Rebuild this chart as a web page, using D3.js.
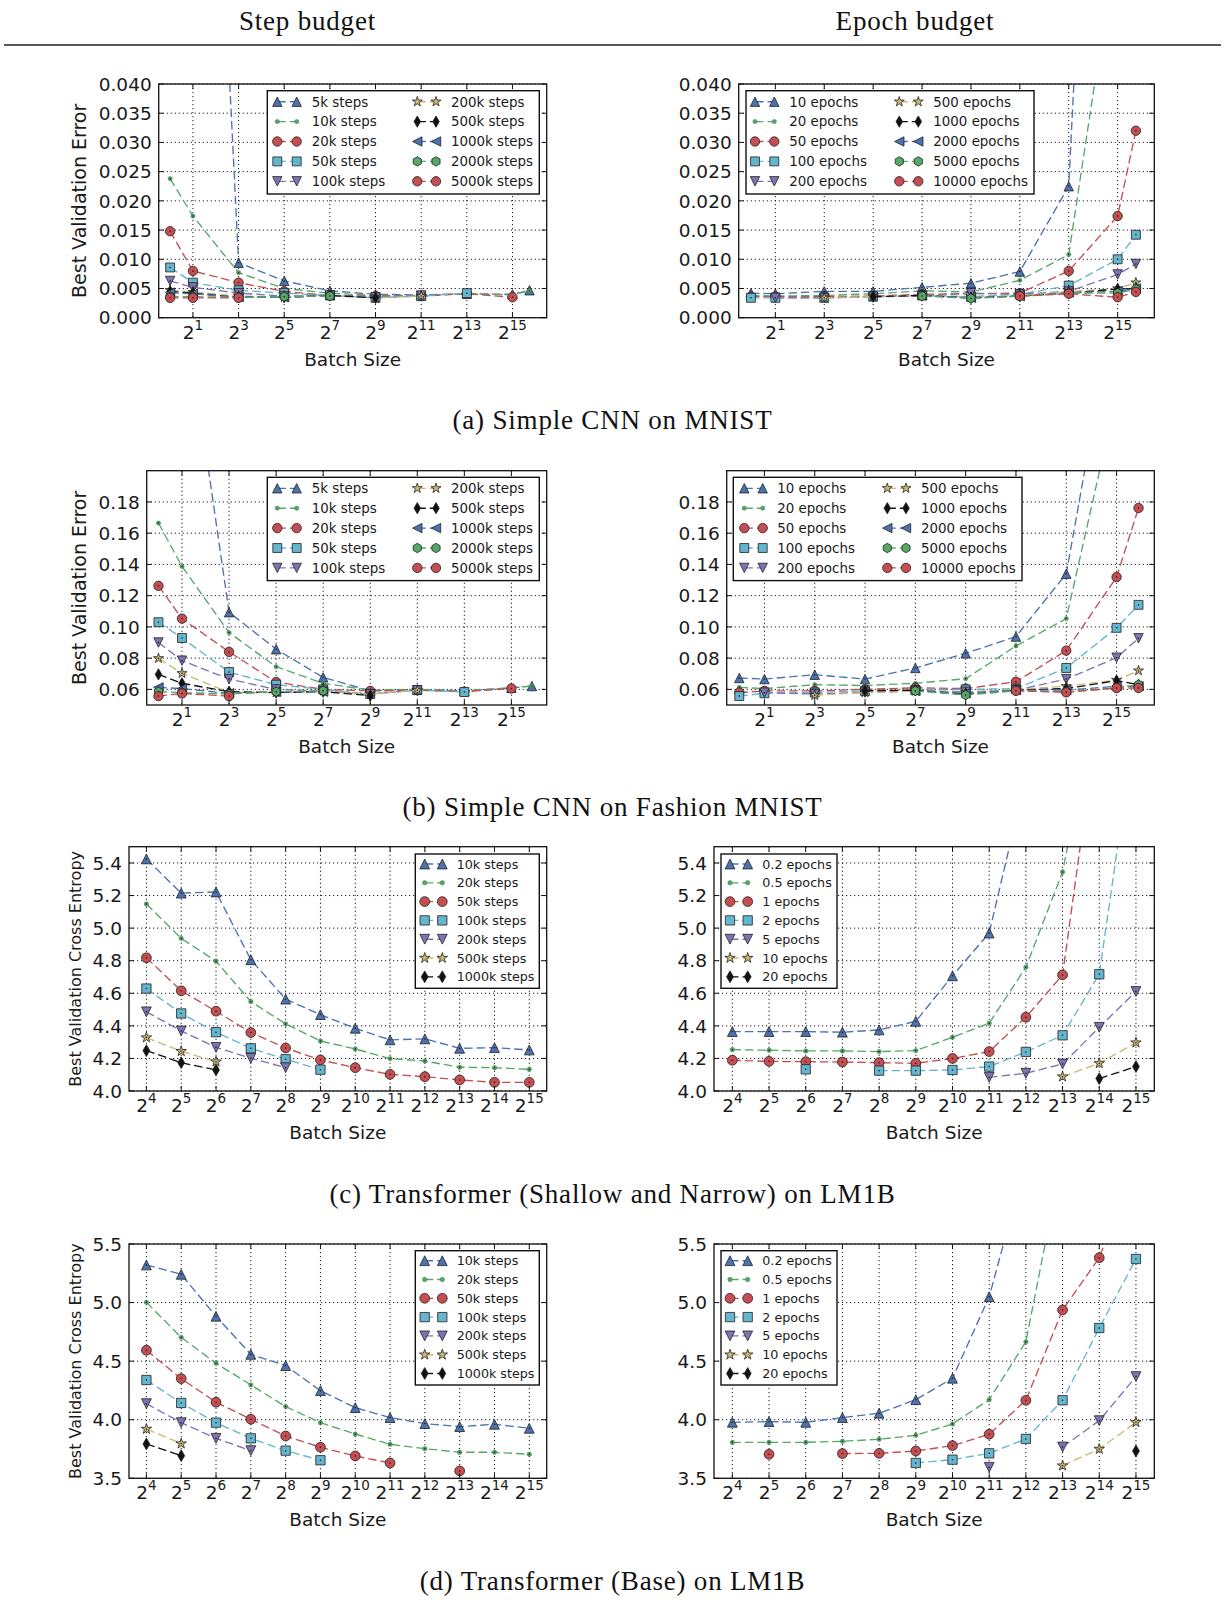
<!DOCTYPE html>
<html><head><meta charset="utf-8">
<script src="https://cdn.jsdelivr.net/npm/d3@7/dist/d3.min.js"></script>
<style>body{margin:0;background:#fff}svg{display:block}</style>
</head><body>
<svg id="c" width="1225" height="1600"></svg>
<script>
// ---------------- DATA ----------------
const batchMNIST   = [1, 2, 8, 32, 128, 512, 2048, 8192, 32768, 55000];
const batchFashion = [1, 2, 8, 32, 128, 512, 2048, 8192, 32768, 60000];
const batchLM1B    = [16, 32, 64, 128, 256, 512, 1024, 2048, 4096, 8192, 16384, 32768];

const cnnStepLabels  = ["5k steps","10k steps","20k steps","50k steps","100k steps","200k steps","500k steps","1000k steps","2000k steps","5000k steps"];
const cnnEpochLabels = ["10 epochs","20 epochs","50 epochs","100 epochs","200 epochs","500 epochs","1000 epochs","2000 epochs","5000 epochs","10000 epochs"];
const lmStepLabels   = ["10k steps","20k steps","50k steps","100k steps","200k steps","500k steps","1000k steps"];
const lmEpochLabels  = ["0.2 epochs","0.5 epochs","1 epochs","2 epochs","5 epochs","10 epochs","20 epochs"];

const xTickExpCNN = [1, 3, 5, 7, 9, 11, 13, 15];
const xTickExpLM  = [4, 5, 6, 7, 8, 9, 10, 11, 12, 13, 14, 15];
const yTicksMNIST   = [0.000, 0.005, 0.010, 0.015, 0.020, 0.025, 0.030, 0.035, 0.040];
const yTicksFashion = [0.06, 0.08, 0.10, 0.12, 0.14, 0.16, 0.18];
const yTicksShallow = [4.0, 4.2, 4.4, 4.6, 4.8, 5.0, 5.2, 5.4];
const yTicksBase    = [3.5, 4.0, 4.5, 5.0, 5.5];

const _ = null;
// (a) Simple CNN on MNIST
const mnistStep = [
  [0.9, 0.168, 0.0094, 0.0063, 0.0046, 0.0040, 0.0039, 0.0041, 0.0040, 0.0047],
  [0.0238, 0.0174, 0.0077, 0.0050, 0.0042, 0.0038, 0.0038, 0.0041, 0.0039, 0.0046],
  [0.0148, 0.0080, 0.0060, 0.0045, 0.0038, 0.0037, 0.0037, 0.0041, 0.0035, _],
  [0.0086, 0.0060, 0.0047, 0.0042, 0.0038, 0.0034, 0.0037, 0.0042, _, _],
  [0.0063, 0.0052, 0.0042, 0.0037, 0.0038, 0.0035, 0.0038, _, _, _],
  [0.0047, 0.0044, 0.0037, 0.0035, 0.0038, 0.0034, 0.0037, _, _, _],
  [0.0045, 0.0042, 0.0035, 0.0035, 0.0038, 0.0034, _, _, _, _],
  [0.0043, 0.0041, 0.0035, 0.0035, 0.0038, _, _, _, _, _],
  [0.0036, 0.0036, 0.0035, 0.0036, 0.0037, _, _, _, _, _],
  [0.0034, 0.0034, 0.0034, _, _, _, _, _, _, _]
];
const mnistEpoch = [
  [0.0042, 0.0041, 0.0045, 0.0045, 0.0052, 0.0059, 0.0079, 0.0225, 0.19, 0.5],
  [0.0038, 0.0037, 0.0038, 0.0041, 0.0046, 0.0044, 0.0064, 0.0108, 0.066, 0.15],
  [0.0036, 0.0036, 0.0036, 0.0037, 0.0040, 0.0041, 0.0042, 0.0080, 0.0174, 0.0320],
  [0.0034, 0.0034, 0.0034, 0.0036, 0.0038, 0.0036, 0.0040, 0.0055, 0.0100, 0.0142],
  [_, 0.0034, 0.0034, 0.0036, 0.0037, 0.0042, 0.0040, 0.0045, 0.0074, 0.0092],
  [_, _, 0.0034, 0.0036, 0.0038, 0.0035, 0.0038, 0.0045, 0.0050, 0.0060],
  [_, _, _, 0.0036, 0.0038, 0.0034, 0.0037, 0.0042, 0.0049, 0.0050],
  [_, _, _, _, 0.0038, 0.0034, 0.0037, 0.0043, 0.0045, 0.0050],
  [_, _, _, _, 0.0037, 0.0033, 0.0037, 0.0042, 0.0042, 0.0049],
  [_, _, _, _, _, _, 0.0037, 0.0041, 0.0035, 0.0044]
];
// (b) Simple CNN on Fashion MNIST
const fashionStep = [
  [0.6, 0.318, 0.1094, 0.0857, 0.0677, 0.0591, 0.0600, 0.0590, 0.0610, 0.0621],
  [0.1665, 0.1387, 0.0964, 0.0745, 0.0639, 0.0595, 0.0600, 0.0590, 0.0610, 0.0622],
  [0.1263, 0.1053, 0.0840, 0.0647, 0.0600, 0.0590, 0.0595, 0.0585, 0.0606, _],
  [0.1030, 0.0929, 0.0711, 0.0630, 0.0600, 0.0570, 0.0595, 0.0583, _, _],
  [0.0900, 0.0784, 0.0666, 0.0600, 0.0590, 0.0570, 0.0595, _, _, _],
  [0.0799, 0.0703, 0.0580, 0.0580, 0.0590, 0.0570, 0.0594, _, _, _],
  [0.0696, 0.0639, 0.0585, 0.0580, 0.0585, 0.0560, _, _, _, _],
  [0.0613, 0.0605, 0.0575, 0.0585, 0.0585, _, _, _, _, _],
  [0.0585, 0.0580, 0.0570, 0.0585, 0.0591, _, _, _, _, _],
  [0.0557, 0.0574, 0.0557, _, _, _, _, _, _, _]
];
const fashionEpoch = [
  [0.0673, 0.0666, 0.0694, 0.0666, 0.0737, 0.0831, 0.0938, 0.134, 0.314, 0.5],
  [0.0613, 0.0605, 0.0630, 0.0625, 0.0639, 0.0668, 0.0878, 0.1053, 0.248, 0.4],
  [0.0580, 0.0590, 0.0590, 0.0600, 0.0610, 0.0605, 0.0649, 0.0848, 0.1319, 0.1761],
  [0.0557, 0.0575, 0.0580, 0.0590, 0.0595, 0.0600, 0.0605, 0.0737, 0.0994, 0.1141],
  [_, 0.0579, 0.0570, 0.0580, 0.0590, 0.0585, 0.0595, 0.0666, 0.0803, 0.0927],
  [_, _, 0.0562, 0.0580, 0.0590, 0.0580, 0.0600, 0.0620, 0.0660, 0.0720],
  [_, _, _, 0.0591, 0.0595, 0.0570, 0.0595, 0.0605, 0.0656, 0.0630],
  [_, _, _, _, 0.0590, 0.0575, 0.0595, 0.0595, 0.0620, 0.0620],
  [_, _, _, _, 0.0590, 0.0564, 0.0590, 0.0585, 0.0610, 0.0630],
  [_, _, _, _, _, _, 0.0591, 0.0581, 0.0609, 0.0609]
];
// (c) Transformer (Shallow and Narrow) on LM1B
const shallowStep = [
  [5.425, 5.215, 5.222, 4.806, 4.564, 4.469, 4.385, 4.314, 4.320, 4.262, 4.266, 4.252],
  [5.148, 4.937, 4.797, 4.549, 4.412, 4.307, 4.258, 4.199, 4.184, 4.146, 4.143, 4.133],
  [4.818, 4.615, 4.490, 4.359, 4.264, 4.191, 4.143, 4.102, 4.088, 4.068, 4.053, 4.053],
  [4.629, 4.476, 4.361, 4.262, 4.195, 4.131, _, _, _, _, _, _],
  [4.486, 4.369, 4.268, 4.201, 4.143, _, _, _, _, _, _, _],
  [4.328, 4.244, 4.180, _, _, _, _, _, _, _, _, _],
  [4.248, 4.174, 4.129, _, _, _, _, _, _, _, _, _]
];
const shallowEpoch = [
  [4.365, 4.365, 4.365, 4.361, 4.375, 4.428, 4.707, 4.970, 5.93, _, _, _],
  [4.254, 4.250, 4.246, 4.246, 4.242, 4.248, 4.330, 4.416, 4.760, 5.345, 6.48, _],
  [4.189, 4.182, 4.180, 4.178, 4.174, 4.170, 4.200, 4.242, 4.453, 4.713, 6.35, _],
  [_, _, 4.133, _, 4.125, 4.125, 4.129, 4.150, 4.240, 4.342, 4.717, 6.28],
  [_, _, _, _, _, _, _, 4.084, 4.109, 4.166, 4.391, 4.611],
  [_, _, _, _, _, _, _, _, _, 4.088, 4.170, 4.297],
  [_, _, _, _, _, _, _, _, _, _, 4.076, 4.150]
];
// (d) Transformer (Base) on LM1B
const baseStep = [
  [5.321, 5.241, 4.883, 4.558, 4.462, 4.248, 4.103, 4.018, 3.967, 3.941, 3.961, 3.927],
  [5.002, 4.703, 4.482, 4.297, 4.112, 3.975, 3.878, 3.790, 3.753, 3.722, 3.722, 3.705],
  [4.593, 4.351, 4.149, 4.004, 3.861, 3.765, 3.691, 3.631, _, 3.563, _, _],
  [4.339, 4.143, 3.975, 3.841, 3.736, 3.654, _, _, _, _, _, _],
  [4.137, 3.975, 3.841, 3.736, _, _, _, _, _, _, _, _],
  [3.921, 3.796, _, _, _, _, _, _, _, _, _, _],
  [3.793, 3.693, _, _, _, _, _, _, _, _, _, _]
];
const baseEpoch = [
  [3.978, 3.984, 3.978, 4.018, 4.055, 4.171, 4.354, 5.050, 6.20, _, _, _],
  [3.807, 3.807, 3.807, 3.816, 3.833, 3.867, 3.964, 4.171, 4.666, 6.25, _, _],
  [_, 3.705, _, 3.711, 3.713, 3.733, 3.779, 3.876, 4.166, 4.937, 5.383, 6.24],
  [_, _, _, _, _, 3.631, 3.659, 3.713, 3.836, 4.166, 4.783, 5.372],
  [_, _, _, _, _, _, _, 3.594, _, 3.767, 3.992, 4.368],
  [_, _, _, _, _, _, _, _, _, 3.608, 3.750, 3.978],
  [_, _, _, _, _, _, _, _, _, _, _, 3.733]
];

// ---------------- STYLE ----------------
const seriesStyles = [
  {m:'tri-up', c:'#4C72B0'}, {m:'dot', c:'#55A868'}, {m:'circle', c:'#C44E52'},
  {m:'square', c:'#64B5CD'}, {m:'tri-down', c:'#8172B2'}, {m:'star', c:'#CCB974'},
  {m:'thin-diamond', c:'#111111'}, {m:'tri-left', c:'#4C72B0'}, {m:'hexagon', c:'#55A868'},
  {m:'circle', c:'#C44E52'}
];
const SANS = "'DejaVu Sans', Verdana, sans-serif";
const SERIF = "'Liberation Serif', 'DejaVu Serif', serif";
const TXT = '#1a1a1a';
const DASH = '8.5,4';

function circ(r){ return `M${-r},0A${r},${r} 0 1,0 ${r},0A${r},${r} 0 1,0 ${-r},0Z`; }
function markerPath(type, s) {
  const f = v => +v.toFixed(2);
  switch (type) {
    case 'tri-up': return `M0,${-s}L${s},${s}L${-s},${s}Z`;
    case 'tri-down': return `M0,${s}L${s},${-s}L${-s},${-s}Z`;
    case 'tri-left': return `M${-s},0L${s},${-s}L${s},${s}Z`;
    case 'square': { const h = s * 0.95; return `M${-h},${-h}H${h}V${h}H${-h}Z`; }
    case 'circle': return circ(s);
    case 'dot': return circ(s * 0.45);
    case 'star': { let p = ''; const R = s * 1.12; for (let k = 0; k < 10; k++) { const r = k % 2 ? R * 0.382 : R; const a = -Math.PI / 2 + k * Math.PI / 5; p += (k ? 'L' : 'M') + f(r * Math.cos(a)) + ',' + f(r * Math.sin(a)); } return p + 'Z'; }
    case 'thin-diamond': return `M0,${f(-s * 1.2)}L${f(s * 0.7)},0L0,${f(s * 1.2)}L${f(-s * 0.7)},0Z`;
    case 'hexagon': { let p = ''; for (let k = 0; k < 6; k++) { const a = -Math.PI / 2 + k * Math.PI / 3; p += (k ? 'L' : 'M') + f(s * Math.cos(a)) + ',' + f(s * Math.sin(a)); } return p + 'Z'; }
  }
}

const svg = d3.select('#c');
const defs = svg.append('defs');

function drawMarker(sel, st, s) {
  sel.append('path').attr('d', markerPath(st.m, s))
    .attr('fill', st.c)
    .attr('stroke', st.m === 'dot' ? '#3d7a4f' : '#222')
    .attr('stroke-width', st.m === 'dot' ? 0.5 : 0.8);
}

function panel(cfg) {
  const g = svg.append('g');
  const x = d3.scaleLog().base(2).domain([2 ** cfg.xlo, 2 ** cfg.xhi]).range([cfg.x0, cfg.x1]);
  const y = d3.scaleLinear().domain(cfg.yDomain).range([cfg.y1, cfg.y0]);
  const clipId = 'clip-' + cfg.id;
  defs.append('clipPath').attr('id', clipId).append('rect')
    .attr('x', cfg.x0).attr('y', cfg.y0).attr('width', cfg.x1 - cfg.x0).attr('height', cfg.y1 - cfg.y0);

  // grid
  const grid = g.append('g').attr('stroke', '#000').attr('stroke-width', 0.9).attr('stroke-dasharray', '1.2,2.8');
  cfg.xTicks.forEach(e => { const px = x(2 ** e); grid.append('line').attr('x1', px).attr('x2', px).attr('y1', cfg.y0).attr('y2', cfg.y1); });
  cfg.yTicks.forEach(v => { const py = y(v); grid.append('line').attr('x1', cfg.x0).attr('x2', cfg.x1).attr('y1', py).attr('y2', py); });

  // series
  const plot = g.append('g').attr('clip-path', `url(#${clipId})`);
  const line = d3.line().defined(d => d.v != null).x(d => x(d.b)).y(d => y(d.v));
  cfg.data.forEach((vals, i) => {
    const st = seriesStyles[i];
    const pts = cfg.batch.map((b, j) => ({ b, v: vals[j] }));
    plot.append('path').datum(pts).attr('d', line).attr('fill', 'none')
      .attr('stroke', st.c).attr('stroke-width', 1.35).attr('stroke-dasharray', DASH);
    const mk = plot.selectAll(null).data(pts.filter(d => d.v != null)).join('g')
      .attr('transform', d => `translate(${x(d.b)},${y(d.v)})`);
    drawMarker(mk, st, cfg.ms);
    mk.append('circle').attr('r', 0.75).attr('fill', '#111');
  });

  // ticks (inward, all four sides)
  const tk = g.append('g').attr('stroke', '#111').attr('stroke-width', 1);
  cfg.xTicks.forEach(e => { const px = x(2 ** e);
    tk.append('line').attr('x1', px).attr('x2', px).attr('y1', cfg.y1).attr('y2', cfg.y1 - 5);
    tk.append('line').attr('x1', px).attr('x2', px).attr('y1', cfg.y0).attr('y2', cfg.y0 + 5); });
  cfg.yTicks.forEach(v => { const py = y(v);
    tk.append('line').attr('x1', cfg.x0).attr('x2', cfg.x0 + 5).attr('y1', py).attr('y2', py);
    tk.append('line').attr('x1', cfg.x1).attr('x2', cfg.x1 - 5).attr('y1', py).attr('y2', py); });

  // frame
  g.append('rect').attr('x', cfg.x0).attr('y', cfg.y0).attr('width', cfg.x1 - cfg.x0).attr('height', cfg.y1 - cfg.y0)
    .attr('fill', 'none').attr('stroke', '#111').attr('stroke-width', 1.3);

  // tick labels
  const fmt = d3.format(cfg.yFmt);
  cfg.yTicks.forEach(v => {
    g.append('text').attr('x', cfg.x0 - 7).attr('y', y(v)).attr('dy', '0.36em')
      .attr('text-anchor', 'end').attr('font-family', SANS).attr('font-size', 18.5).attr('fill', TXT).text(fmt(v));
  });
  cfg.xTicks.forEach(e => {
    const t = g.append('text').attr('x', x(2 ** e)).attr('y', cfg.y1 + 21)
      .attr('text-anchor', 'middle').attr('font-family', SANS).attr('font-size', 18.5).attr('fill', TXT);
    t.append('tspan').text('2');
    t.append('tspan').attr('dy', -9).attr('font-size', 13.5).text(String(e));
  });
  g.append('text').attr('x', (cfg.x0 + cfg.x1) / 2).attr('y', cfg.y1 + 48).attr('text-anchor', 'middle')
    .attr('font-family', SANS).attr('font-size', 18.5).attr('fill', TXT).text('Batch Size');
  if (cfg.ylabel) {
    g.append('text').attr('transform', `translate(${cfg.ylabelX},${(cfg.y0 + cfg.y1) / 2}) rotate(-90)`)
      .attr('text-anchor', 'middle').attr('dy', '0.36em').attr('font-family', SANS).attr('font-size', cfg.ylabelSize)
      .attr('fill', TXT).text(cfg.ylabel);
  }

  // legend
  const L = cfg.legend;
  const lg = g.append('g');
  lg.append('rect').attr('x', L.x).attr('y', L.y).attr('width', L.w).attr('height', L.h)
    .attr('fill', '#fff').attr('stroke', '#111').attr('stroke-width', 1.4);
  cfg.labels.forEach((lab, i) => {
    const col = L.cols[Math.floor(i / L.rows)];
    const ry = L.rowY0 + (i % L.rows) * L.dy;
    const st = seriesStyles[i];
    lg.append('line').attr('x1', col[0]).attr('x2', col[1]).attr('y1', ry).attr('y2', ry)
      .attr('stroke', st.c).attr('stroke-width', 1.35).attr('stroke-dasharray', DASH);
    [col[0], col[1]].forEach(px => drawMarker(lg.append('g').attr('transform', `translate(${px},${ry})`), st, cfg.ms));
    lg.append('text').attr('x', col[2]).attr('y', ry).attr('dy', '0.36em').attr('font-family', SANS)
      .attr('font-size', L.font).attr('fill', TXT).text(lab);
  });
}

// ---------------- LAYOUT ----------------
const cnnX = { xlo: -0.5, xhi: 16.5, xTicks: xTickExpCNN, ms: 4.7 };
const lmX  = { xlo: 3.5, xhi: 15.5, xTicks: xTickExpLM, ms: 4.9 };
const legCnnL = (y, r0) => ({ x: 267.3, y, w: 272, h: 103.3, rows: 5, rowY0: r0, dy: 19.9, font: 13.4, cols: [[277.3, 296.7, 311.7], [417.3, 436, 451]] });
const legLmL  = (y, r0) => ({ x: 415.3, y, w: 124, h: 134.3, rows: 7, rowY0: r0, dy: 18.8, font: 12.7, cols: [[424.7, 442.3, 456.7]] });
const legLmR  = (y, r0) => ({ x: 721, y, w: 116, h: 134.3, rows: 7, rowY0: r0, dy: 18.8, font: 12.7, cols: [[730, 747.7, 762.3]] });

panel(Object.assign({ id: 'aL', x0: 158.7, x1: 546.7, y0: 84, y1: 317.7, yDomain: [0, 0.04], yTicks: yTicksMNIST, yFmt: '.3f',
  batch: batchMNIST, data: mnistStep, labels: cnnStepLabels, ylabel: 'Best Validation Error', ylabelX: 79, ylabelSize: 19,
  legend: legCnnL(90.7, 101.7) }, cnnX));
panel(Object.assign({ id: 'aR', x0: 738.7, x1: 1154.3, y0: 84, y1: 317.7, yDomain: [0, 0.04], yTicks: yTicksMNIST, yFmt: '.3f',
  batch: batchMNIST, data: mnistEpoch, labels: cnnEpochLabels,
  legend: { x: 746, y: 90.7, w: 288, h: 103.3, rows: 5, rowY0: 101.7, dy: 19.9, font: 13.4, cols: [[755, 774.3, 789.3], [899.3, 918.3, 933.3]] } }, cnnX));
panel(Object.assign({ id: 'bL', x0: 146.7, x1: 546.7, y0: 470.7, y1: 705, yDomain: [0.05, 0.2], yTicks: yTicksFashion, yFmt: '.2f',
  batch: batchFashion, data: fashionStep, labels: cnnStepLabels, ylabel: 'Best Validation Error', ylabelX: 79, ylabelSize: 19,
  legend: legCnnL(477.3, 488.3) }, cnnX));
panel(Object.assign({ id: 'bR', x0: 726.7, x1: 1154.3, y0: 470.7, y1: 705, yDomain: [0.05, 0.2], yTicks: yTicksFashion, yFmt: '.2f',
  batch: batchFashion, data: fashionEpoch, labels: cnnEpochLabels,
  legend: { x: 733.3, y: 477.3, w: 288.7, h: 103.3, rows: 5, rowY0: 488.3, dy: 19.9, font: 13.4, cols: [[744.3, 762.7, 777.3], [887.3, 906, 921]] } }, cnnX));
panel(Object.assign({ id: 'cL', x0: 129, x1: 546.7, y0: 846.7, y1: 1091, yDomain: [4.0, 5.5], yTicks: yTicksShallow, yFmt: '.1f',
  batch: batchLM1B, data: shallowStep, labels: lmStepLabels, ylabel: 'Best Validation Cross Entropy', ylabelX: 75.7, ylabelSize: 16,
  legend: legLmL(854, 864) }, lmX));
panel(Object.assign({ id: 'cR', x0: 714, x1: 1154.3, y0: 846.7, y1: 1091, yDomain: [4.0, 5.5], yTicks: yTicksShallow, yFmt: '.1f',
  batch: batchLM1B, data: shallowEpoch, labels: lmEpochLabels, legend: legLmR(854, 864) }, lmX));
panel(Object.assign({ id: 'dL', x0: 129, x1: 546.7, y0: 1244, y1: 1478.3, yDomain: [3.5, 5.5], yTicks: yTicksBase, yFmt: '.1f',
  batch: batchLM1B, data: baseStep, labels: lmStepLabels, ylabel: 'Best Validation Cross Entropy', ylabelX: 75.7, ylabelSize: 16,
  legend: legLmL(1250.7, 1260.7) }, lmX));
panel(Object.assign({ id: 'dR', x0: 714, x1: 1154.3, y0: 1244, y1: 1478.3, yDomain: [3.5, 5.5], yTicks: yTicksBase, yFmt: '.1f',
  batch: batchLM1B, data: baseEpoch, labels: lmEpochLabels, legend: legLmR(1250.7, 1260.7) }, lmX));

// headers & captions
const head = svg.append('g').attr('font-family', SERIF).attr('fill', '#111').attr('text-anchor', 'middle');
head.append('text').attr('x', 307.5).attr('y', 30).attr('font-size', 27).attr('letter-spacing', 0.8).text('Step budget');
head.append('text').attr('x', 915).attr('y', 30).attr('font-size', 27).attr('letter-spacing', 0.8).text('Epoch budget');
svg.append('line').attr('x1', 4).attr('x2', 1221).attr('y1', 45).attr('y2', 45).attr('stroke', '#222').attr('stroke-width', 1.6);
const captions = [
  ['(a) Simple CNN on MNIST', 429],
  ['(b) Simple CNN on Fashion MNIST', 815.5],
  ['(c) Transformer (Shallow and Narrow) on LM1B', 1202.5],
  ['(d) Transformer (Base) on LM1B', 1589.5]
];
captions.forEach(([t, yy]) => head.append('text').attr('x', 612.5).attr('y', yy).attr('font-size', 27).attr('letter-spacing', 0.8).text(t));
</script>
</body></html>
